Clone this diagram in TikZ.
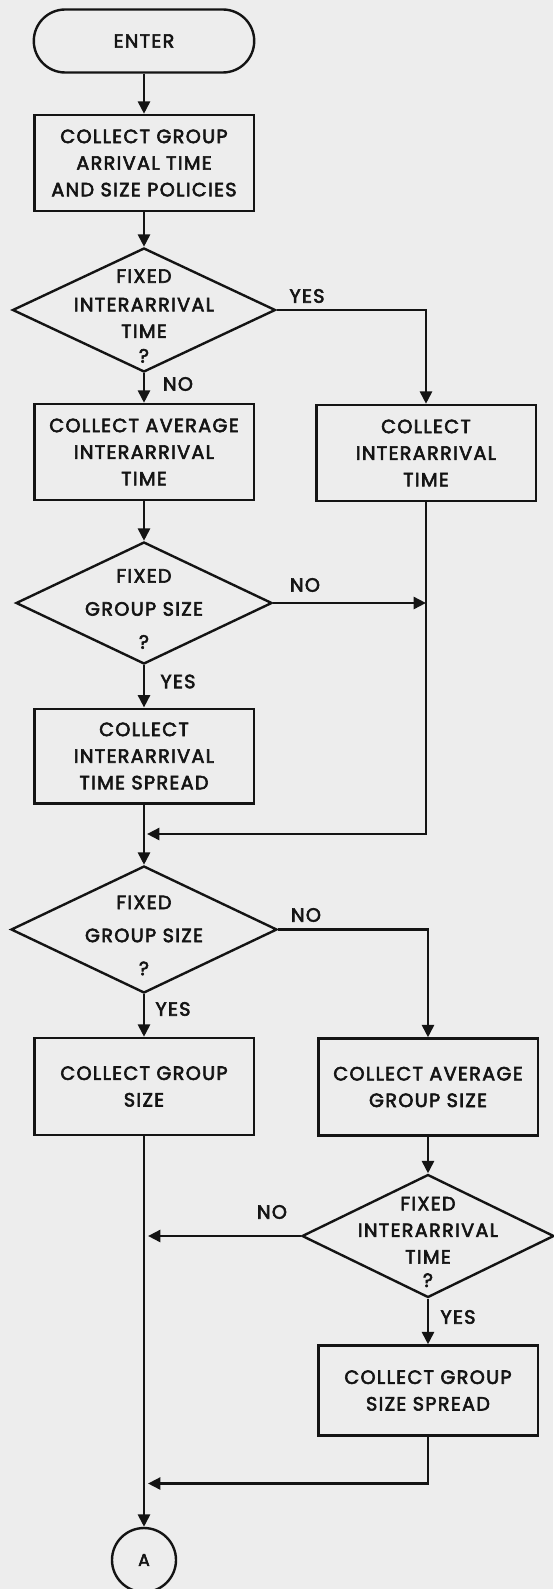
\documentclass[tikz,border=0pt]{standalone}
\usepackage{fontspec}
\setmainfont{Poppins}[FakeBold=3,LetterSpace=7]
\usetikzlibrary{shapes.geometric,arrows.meta}
\definecolor{paper}{gray}{0.93}
\definecolor{ink}{gray}{0.08}
\tikzset{
  terminal/.style={draw=ink,line width=1.2pt,rectangle,rounded corners=15.7pt,minimum width=110.2pt,minimum height=31.5pt,inner sep=0pt},
  block/.style={draw=ink,line width=1.2pt,rectangle,align=center,minimum width=109.7pt,minimum height=48pt,inner sep=0pt},
  decision/.style={draw=ink,line width=1.2pt,diamond,minimum width=131.5pt,minimum height=62pt,inner sep=0pt},
  qtext/.style={align=center,inner sep=0pt,yshift=-3pt},
  tag/.style={inner sep=0pt},
  connector/.style={draw=ink,line width=1.2pt,circle,minimum size=32pt,inner sep=0pt,font=\fontsize{8.6}{12}\selectfont},
  flow/.style={draw=ink,line width=1.3pt,-{Triangle[length=6.2pt,width=6pt]}}
}
\begin{document}
\begin{tikzpicture}[x=0.5pt,y=-0.5pt,every node/.style={font=\fontsize{9.6}{13.3}\selectfont,text=ink}]
      \path[use as bounding box,fill=paper] (0,0) rectangle (553,1589);
      \draw
        (144,41) node[terminal] (enter){ENTER}
        (144,163) node[block] (b1){COLLECT GROUP\\ARRIVAL TIME\\AND SIZE POLICIES}
        (144,310) node[decision,label={[qtext]center:FIXED\\[1pt]INTERARRIVAL\\TIME\\[-1pt]?}] (d1){}
        (144,452) node[block] (b2l){COLLECT AVERAGE\\INTERARRIVAL\\TIME}
        (426,453) node[block] (b2r){COLLECT\\INTERARRIVAL\\TIME}
        (144,603) node[decision,minimum width=128pt,minimum height=61pt,label={[qtext]center:FIXED\\[3.2pt]GROUP SIZE\\[3.2pt]?}] (d2){}
        (144,756) node[block,minimum height=47.3pt] (b3l){COLLECT\\INTERARRIVAL\\TIME SPREAD}
        (144,929.5) node[decision,minimum width=133pt,minimum height=63.5pt,label={[qtext]center:FIXED\\[3.2pt]GROUP SIZE\\[3.2pt]?}] (d3){}
        (144,1086.5) node[block,minimum height=48.5pt] (b4l){COLLECT GROUP\\SIZE}
        (428,1087) node[block,minimum height=48.5pt] (b4r){COLLECT AVERAGE\\GROUP SIZE}
        (428,1236) node[decision,minimum width=126pt,minimum height=61.5pt,label={[qtext]center:FIXED\\INTERARRIVAL\\TIME\\[-1.6pt]?}] (d4){}
        (428,1390.5) node[block,minimum height=45pt] (b5r){COLLECT GROUP\\SIZE SPREAD}
        (144,1560) node[connector] (a){A};
      \draw
        (307,296) node[tag] (yes1){YES}
        (178,384) node[tag] (no1){NO}
        (305,585) node[tag] (no2){NO}
        (178,681.5) node[tag] (yes2){YES}
        (306,915) node[tag] (no3){NO}
        (173,1009) node[tag] (yes3){YES}
        (272,1212) node[tag] (no4){NO}
        (458,1317) node[tag] (yes4){YES};
      \coordinate (j1) at (426,603);
      \coordinate (j2) at (147,834);
      \coordinate (j3) at (148,1236);
      \coordinate (j4) at (148,1483.5);
      \begin{scope}[flow]
        \draw (enter) to (b1);
        \draw (b1) to (d1);
        \draw (d1) to (b2l);
        \draw (d1) -| (b2r);
        \draw (b2l) to (d2);
        \draw (d2) to (j1);
        \draw (d2) to (b3l);
        \draw (b2r) |- (j2);
        \draw (b3l) to (d3);
        \draw (d3) to (b4l);
        \draw (d3) -| (b4r);
        \draw (b4r) to (d4);
        \draw (d4) to (j3);
        \draw (d4) to (b5r);
        \draw (b5r) |- (j4);
        \draw (b4l) to (a);
      \end{scope}
    \end{tikzpicture}
\end{document}
